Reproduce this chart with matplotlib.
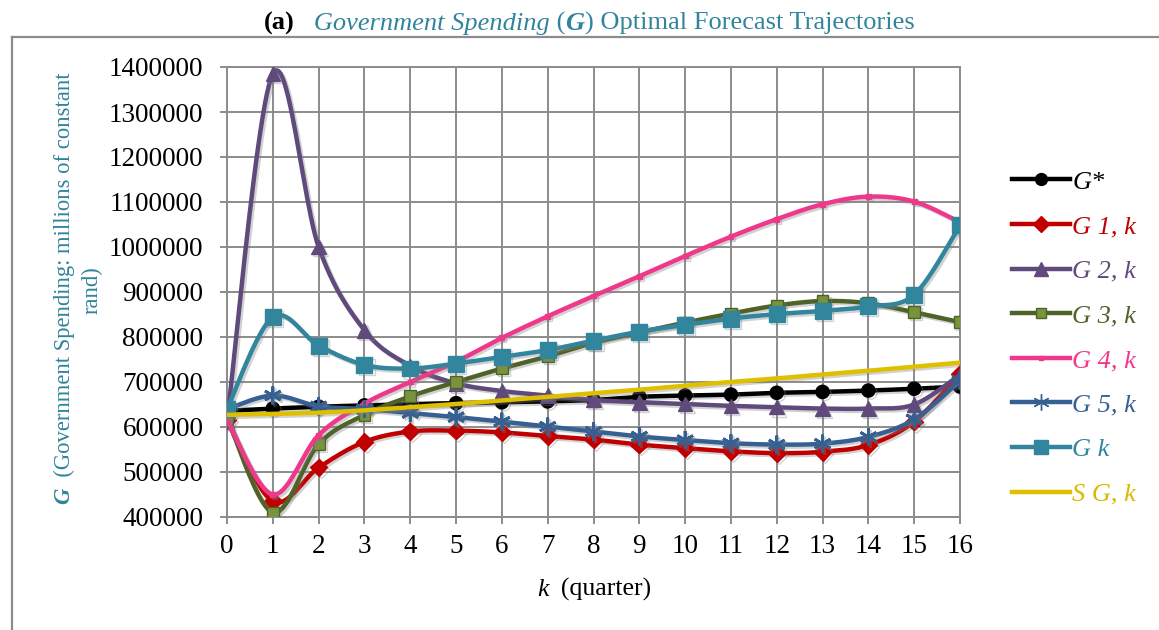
import numpy as np
import matplotlib
matplotlib.use("Agg")
import matplotlib.pyplot as plt
from matplotlib.lines import Line2D
import matplotlib.patheffects as pe

# ---------------- data ----------------
k = list(range(17))
g_star = [636000, 641000, 645000, 648000, 651000, 653000, 655000, 657000, 660000,
          667000, 670000, 672000, 676000, 678000, 681000, 685000, 690000]
g1 = [615000, 435000, 510000, 567000, 590000, 592000, 588000, 580000, 572000,
      561000, 553000, 546000, 542000, 545000, 560000, 612000, 718000]
g2 = [615000, 1385000, 1000000, 815000, 736000, 697000, 680000, 670000, 660000,
      655000, 651000, 647000, 644000, 641000, 641000, 650000, 716000]
g3 = [620000, 410000, 562000, 627000, 668000, 700000, 730000, 757000, 787000,
      810000, 832000, 852000, 870000, 880000, 875000, 855000, 833000]
g4 = [615000, 450000, 582000, 652000, 700000, 745000, 798000, 846000, 891000,
      935000, 980000, 1023000, 1062000, 1095000, 1112000, 1101000, 1055000]
g5 = [640000, 670000, 646000, 640000, 631000, 622000, 612000, 601000, 590000,
      579000, 571000, 564000, 561000, 563000, 578000, 617000, 703000]
gk = [640000, 844000, 781000, 738000, 730000, 741000, 756000, 771000, 792000,
      812000, 827000, 841000, 851000, 858000, 868000, 894000, 1048000]
sg = [627000, 629000, 632000, 637000, 644000, 651000, 659000, 667000, 675000,
      683000, 692000, 700000, 708000, 717000, 725000, 734000, 743000]

labels = ["G*", "G 1, k", "G 2, k", "G 3, k", "G 4, k", "G 5, k", "G k", "S G, k"]
y_ticks = list(range(400000, 1400001, 100000))

SERIF = "Liberation Serif"
TEAL = "#31849B"


def smooth(xs, ys, n=24):
    """Catmull-Rom style Bezier smoothing through the data points (Excel-like)."""
    x = np.asarray(xs, float)
    y = np.asarray(ys, float)
    P = np.column_stack([x, y])
    P = np.vstack([P[0], P, P[-1]])
    out = []
    t = np.linspace(0, 1, n, endpoint=False)[:, None]
    for i in range(1, len(P) - 2):
        p0, p1, p2, p3 = P[i - 1], P[i], P[i + 1], P[i + 2]
        c1 = p1 + (p2 - p0) / 6.0
        c2 = p2 - (p3 - p1) / 6.0
        seg = ((1 - t) ** 3) * p1 + 3 * ((1 - t) ** 2) * t * c1 + 3 * (1 - t) * t ** 2 * c2 + t ** 3 * p2
        out.append(seg)
    out.append(P[-2][None, :])
    out = np.vstack(out)
    return out[:, 0], out[:, 1]


styles = [
    dict(color="black", marker="o", ms=9.5, mfc="black", mec="black"),
    dict(color="#C00000", marker="D", ms=9, mfc="#C00000", mec="#C00000"),
    dict(color="#604A7B", marker="^", ms=10.5, mfc="#604A7B", mec="#604A7B"),
    dict(color="#4F6228", marker="s", ms=8.5, mfc="#77933C", mec="#4F6228"),
    dict(color="#F0388A", marker="s", ms=3.5, mfc="#F0388A", mec="#F0388A"),
    dict(color="#376092", marker=(6, 2, 0), ms=13, mfc="#376092", mec="#376092"),
    dict(color="#31859C", marker="s", ms=11.5, mfc="#31859C", mec="#31859C"),
    dict(color="#DFC000", marker=None, ms=0, mfc="none", mec="none"),
]
series = [g_star, g1, g2, g3, g4, g5, gk, sg]

fig = plt.figure(figsize=(11.59, 6.30), dpi=100)
ax = fig.add_axes([227 / 1159, 1 - 517 / 630, (960 - 227) / 1159, (517 - 67) / 630])

shadow = [pe.SimpleLineShadow(offset=(1.5, -1.5), shadow_color="gray", alpha=0.35), pe.Normal()]
LW = 3.2
for i, (vals, st) in enumerate(zip(series, styles)):
    sx, sy = smooth(k, vals)
    ax.plot(sx, sy, color=st["color"], lw=LW, solid_capstyle="round", zorder=3 + i,
            path_effects=shadow)
    if st["marker"] is not None:
        mew = 1.0 if st["marker"] != (6, 2, 0) else 2.0
        ax.plot(k, vals, ls="none", marker=st["marker"], ms=st["ms"], mfc=st["mfc"],
                mec=st["mec"], mew=mew, zorder=3 + i, path_effects=shadow)

ax.set_xlim(0, 16)
ax.set_ylim(400000, 1400000)
ax.set_xticks(k)
ax.set_yticks(y_ticks)
ax.set_xticklabels([str(v) for v in k])
ax.set_yticklabels([str(v) for v in y_ticks])
ax.grid(True, color="#8C8C8C", lw=1.4, zorder=1)
ax.set_axisbelow(True)
for s in ax.spines.values():
    s.set_color("#8C8C8C")
    s.set_linewidth(1.4)
ax.tick_params(axis="both", direction="out", color="#8C8C8C", width=1.4, length=5,
               labelsize=19.5)
ax.tick_params(axis="y", pad=12)
ax.tick_params(axis="x", pad=7)
for lab in ax.get_xticklabels() + ax.get_yticklabels():
    lab.set_fontfamily(SERIF)
    lab.set_color("black")

# legend
handles = []
for st in styles:
    if st["marker"] is None:
        h = Line2D([], [], color=st["color"], lw=LW)
    else:
        h = Line2D([], [], color=st["color"], lw=LW, marker=st["marker"],
                   ms=st["ms"] * 0.9, mfc=st["mfc"], mec=st["mec"])
    handles.append(h)
leg = fig.legend(handles, labels, loc="center left", bbox_to_anchor=(988 / 1159, 1 - 338 / 630),
                 frameon=False, numpoints=1, handlelength=2.2, handletextpad=0.1,
                 labelspacing=0.8, prop=dict(family=SERIF, style="italic", size=19))
for txt, st in zip(leg.get_texts(), styles):
    txt.set_color(st["color"] if st["color"] != "#DFC000" else "#D8BA00")

# outer frame
fig.add_artist(Line2D([12 / 1159, 1.0], [1 - 37 / 630, 1 - 37 / 630], transform=fig.transFigure,
                      color="#8C8C8C", lw=1.6))
fig.add_artist(Line2D([12 / 1159, 12 / 1159], [0, 1 - 37 / 630], transform=fig.transFigure,
                      color="#8C8C8C", lw=1.6))

renderer = fig.canvas.get_renderer()


def pieces_h(parts, xc, y, size):
    """Place mixed-style text pieces horizontally, centred at xc (pixels), baseline y (pixels)."""
    objs = []
    widths = []
    for s, kw in parts:
        t = fig.text(0, 0, s, fontsize=size, family=SERIF, ha="left", va="baseline",
                     transform=None, **kw)
        bb = t.get_window_extent(renderer)
        objs.append(t)
        widths.append(bb.width)
    total = sum(widths)
    x = xc - total / 2
    H = fig.bbox.height
    for t, w in zip(objs, widths):
        t.set_position((x, H - y))
        x += w
    return objs


def pieces_v(parts, x, yc, size):
    """Rotated (90 deg) mixed-style text, centred at (x, yc) in pixels from top-left."""
    objs = []
    heights = []
    for s, kw in parts:
        t = fig.text(0, 0, s, fontsize=size, family=SERIF, ha="center", va="bottom",
                     rotation=90, transform=None, **kw)
        bb = t.get_window_extent(renderer)
        objs.append(t)
        heights.append(bb.height)
    total = sum(heights)
    H = fig.bbox.height
    ypos = (H - yc) - total / 2
    for t, h in zip(objs, heights):
        t.set_position((x, ypos))
        ypos += h
    return objs


# title
pieces_h([("(a)", dict(weight="bold", color="black")),
          ("\u2002 Government Spending", dict(style="italic", color=TEAL)),
          (" (", dict(color=TEAL)),
          ("G", dict(style="italic", weight="bold", color=TEAL)),
          (") Optimal Forecast Trajectories", dict(color=TEAL))],
         xc=589, y=30, size=19)

# x label
pieces_h([("k", dict(style="italic", color="black")),
          ("\u2002(quarter)", dict(color="black"))], xc=594, y=596, size=18.5)

# y label
pieces_v([("G", dict(style="italic", weight="bold", color=TEAL)),
          ("\u2002(Government Spending: millions of constant", dict(color=TEAL))],
         x=64, yc=288, size=16.3)
pieces_v([("rand)", dict(color=TEAL))], x=92, yc=290, size=16.3)

fig.savefig("out.png", dpi=100)
